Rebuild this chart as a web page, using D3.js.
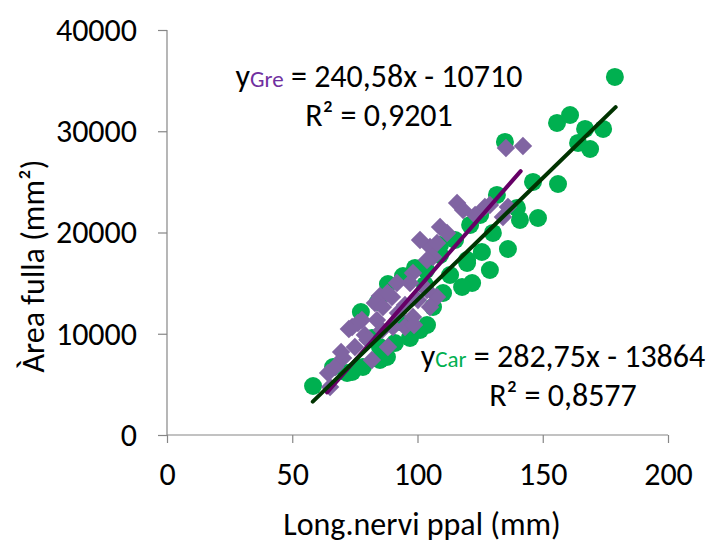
<!DOCTYPE html>
<html>
<head>
<meta charset="utf-8">
<script src="https://cdn.jsdelivr.net/npm/d3@7"></script>
<style>
  html, body { margin: 0; padding: 0; background: #fff; }
  svg text { font-family: Carlito, Calibri, Lato, "Open Sans", sans-serif; }
</style>
</head>
<body>
<svg id="chart" width="710" height="547"></svg>
<script>
// Leaf measurements: main vein length (mm) vs leaf area (mm²)
const carX = [58.3, 66.3, 73.9, 77.4, 84.2, 88.2, 94.2, 99.0, 103.4, 109.0, 119.8, 121.8, 117.8, 110.2, 106.2, 101.0, 97.0, 87.8, 85.0, 78.2, 71.9, 93.0, 115.0, 119.8, 125.7, 128.9, 130.1, 131.7, 134.9, 136.1, 139.7, 140.9, 146.1, 148.1, 156.1, 155.7, 160.9, 166.9, 174.1, 164.1, 168.9, 178.8, 125.0, 121.0, 109.0, 103.0, 113.0, 81.8, 91.0, 103.8, 97.0, 85.0];
const carY = [4840, 6716, 6222, 12149, 13136, 14914, 15704, 16495, 16297, 17779, 16989, 15013, 14618, 14025, 12643, 10371, 9581, 7704, 8692, 6716, 6124, 11161, 19260, 17285, 18075, 16297, 19952, 23705, 28940, 18371, 22421, 21236, 24989, 21433, 24791, 30816, 31606, 30224, 30224, 28841, 28248, 35360, 21729, 20742, 18766, 14816, 15803, 9581, 9087, 10865, 10667, 7408];

const greX = [135.3, 142.1, 128.9, 136.1, 134.1, 115.8, 118.2, 109.0, 111.8, 105.0, 106.2, 98.2, 97.0, 107.8, 85.0, 77.8, 73.9, 75.0, 67.1, 64.3, 65.1, 81.8, 88.2, 85.8, 95.0, 92.2, 83.0, 89.8, 107.8, 103.8, 91.8, 86.2, 83.8, 103.8, 105.0, 98.2, 90.2, 70.3, 126.9, 123.0, 100.2, 79.0, 101.0, 76.2, 72.6, 88.0, 95.0, 98.6, 80.0, 69.5];
const greY = [28347, 28545, 22717, 22520, 21532, 22915, 22223, 20544, 19952, 18569, 17581, 16001, 15013, 13630, 13729, 11358, 10667, 8692, 6716, 6124, 4741, 7408, 8692, 10371, 10667, 12050, 13037, 13630, 18964, 17285, 15013, 12643, 11358, 14322, 12643, 11655, 10667, 7605, 22520, 21729, 13334, 9877, 19260, 11062, 10470, 14026, 12840, 10865, 9400, 8200];

// Linear fits as labelled: slope, intercept, R², x extent
const fitGre = { slope: 240.58, intercept: -10710, r2: "0,9201", xMin: 58.2, xMax: 179.1 };
const fitCar = { slope: 282.75, intercept: -13864, r2: "0,8577", xMin: 63.9, xMax: 141.2 };

const xTicks = [0, 50, 100, 150, 200];
const yTicks = [0, 10000, 20000, 30000, 40000];

const svg = d3.select("#chart");
const x = d3.scaleLinear().domain([0, 200]).range([167, 668]);
const y = d3.scaleLinear().domain([0, 40000]).range([435, 30]);

const fontSize = 32;
const fontFamily = "Carlito, Calibri, Lato, 'Open Sans', sans-serif";
const axisColor = "#868686";

// axes
const xAxis = svg.append("g").attr("transform", "translate(0,435)")
  .call(d3.axisBottom(x).tickValues(xTicks).tickSize(8).tickPadding(19).tickFormat(d3.format("d")));
const yAxis = svg.append("g").attr("transform", "translate(167,0)")
  .call(d3.axisLeft(y).tickValues(yTicks).tickSize(9).tickPadding(21).tickFormat(d3.format("d")));
[xAxis, yAxis].forEach(g => {
  g.select(".domain").attr("stroke", axisColor).attr("stroke-width", 1.2);
  g.selectAll(".tick line").attr("stroke", axisColor).attr("stroke-width", 1.2);
  g.selectAll(".tick text").attr("fill", "#000").style("font-size", fontSize + "px")
    .style("font-family", fontFamily);
});
xAxis.select(".domain").attr("d", `M${x(0)},0H${x(200)}`);
yAxis.select(".domain").attr("d", `M0,${y(40000)}V${y(0)}`);

// markers: green circles, purple diamonds on top
svg.append("g").selectAll("circle").data(d3.range(carX.length)).join("circle")
  .attr("cx", i => x(carX[i])).attr("cy", i => y(carY[i])).attr("r", 9)
  .attr("fill", "#00B050");

const diamond = d3.symbol().type(d3.symbolSquare).size(170);
svg.append("g").selectAll("path").data(d3.range(greX.length)).join("path")
  .attr("d", diamond)
  .attr("transform", i => `translate(${x(greX[i])},${y(greY[i])}) rotate(45)`)
  .attr("fill", "#8064A2");

// trend lines
function trend(f, color) {
  svg.append("line")
    .attr("x1", x(f.xMin)).attr("y1", y(f.slope * f.xMin + f.intercept))
    .attr("x2", x(f.xMax)).attr("y2", y(f.slope * f.xMax + f.intercept))
    .attr("stroke", color).attr("stroke-width", 4).attr("stroke-linecap", "round");
}
trend(fitCar, "#660066");
trend(fitGre, "#003300");

// equation labels
const fmt = v => d3.format(".2f")(v).replace(".", ",");
function equation(cx, baseline, tag, tagColor, f) {
  const t = svg.append("text").attr("x", cx).attr("y", baseline)
    .attr("text-anchor", "middle").style("font-size", fontSize + "px").attr("fill", "#000");
  t.append("tspan").text("y");
  t.append("tspan").attr("fill", tagColor).style("font-size", "23px").text(tag);
  t.append("tspan").text(` = ${fmt(f.slope)}x - ${Math.abs(f.intercept)}`);
  svg.append("text").attr("x", cx).attr("y", baseline + 39)
    .attr("text-anchor", "middle").style("font-size", fontSize + "px").attr("fill", "#000")
    .text(`R² = ${f.r2}`);
}
equation(379, 87, "Gre", "#7030A0", fitGre);
equation(563, 367, "Car", "#00B050", fitCar);

// axis titles
svg.append("text").attr("x", 422).attr("y", 535).attr("text-anchor", "middle")
  .style("font-size", fontSize + "px").attr("fill", "#000").text("Long.nervi ppal (mm)");
svg.append("text").attr("transform", "translate(44,266) rotate(-90)").attr("text-anchor", "middle")
  .style("font-size", fontSize + "px").attr("fill", "#000").text("Àrea fulla (mm²)");
</script>
</body>
</html>
